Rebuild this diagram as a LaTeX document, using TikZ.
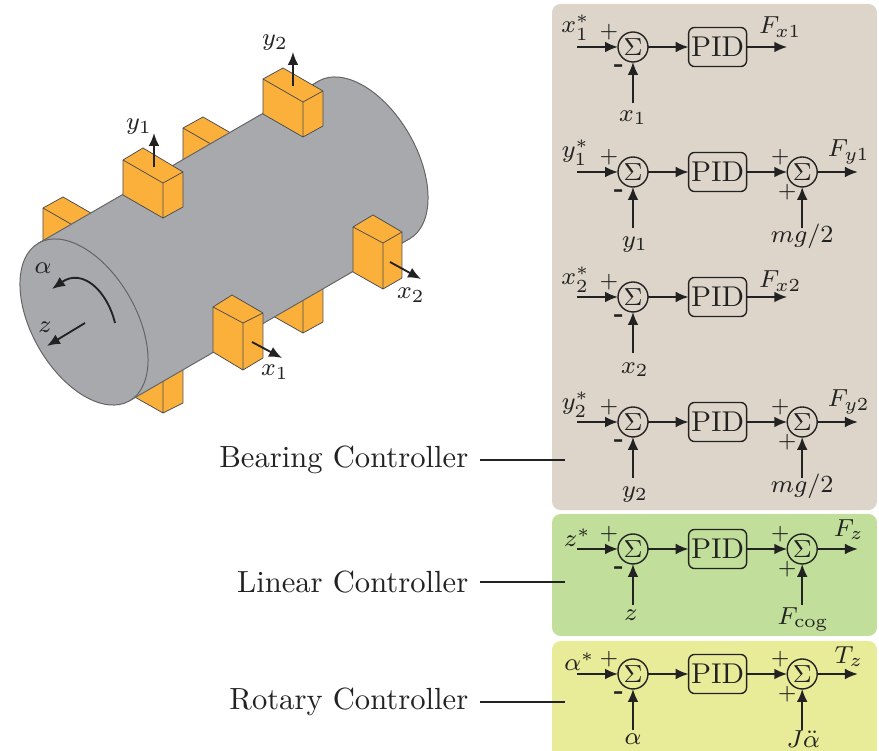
\documentclass[tikz,border=0pt]{standalone}
\usepackage{xcolor}
\usepackage{tikz}
\usetikzlibrary{arrows.meta,positioning}
\definecolor{rotorgray}{HTML}{A7A9AC}
\definecolor{magnetorange}{HTML}{FBB03B}
\definecolor{panelbrown}{HTML}{DDD5C9}
\definecolor{panelgreen}{HTML}{C1DE9A}
\definecolor{panelyellow}{HTML}{E8EB98}
\definecolor{inkdark}{HTML}{222222}

\begin{document}
\begin{tikzpicture}[
    x=0.325pt, y=-0.325pt,
    node distance=13.2pt,
    every node/.style={text=inkdark},
    panel/.style={rounded corners=2.8pt, minimum width=105.6pt, inner sep=0pt},
    pid/.style={draw=inkdark, line width=0.45pt, rounded corners=1.95pt, minimum width=18.85pt, minimum height=12.7pt, inner sep=0pt, outer sep=0pt, font=\fontsize{9.3}{10}\selectfont},
    sumnode/.style={draw=inkdark, line width=0.45pt, circle, minimum size=9.75pt, inner sep=0pt, outer sep=0pt, font=\fontsize{8}{9}\selectfont},
    lbl/.style={inner sep=0pt, font=\fontsize{8}{9}\selectfont},
    plusnode/.style={inner sep=0pt, font=\fontsize{6.93}{8}\selectfont},
    minusnode/.style={inner sep=0pt, font=\fontsize{8}{9}\selectfont\bfseries},
    ctrltext/.style={anchor=east, inner sep=3.6pt, font=\fontsize{9.95}{12}\selectfont},
    leader/.style={line width=0.55pt, draw=inkdark},
    arrow/.style={-{Latex[length=4.2pt,width=3.5pt]}, line width=0.6pt, draw=inkdark},
    magnet/.style={fill=magnetorange, draw=inkdark!80, line width=0.25pt, line join=round},
    rotor/.style={fill=rotorgray, draw=inkdark!70, line width=0.32pt}
  ]
    \clip (0,0) rectangle (879,751);

    % panels
    \node[panel, fill=panelbrown, minimum height=164.5pt] (bearingpanel) at (714.5,257) {};
    \node[panel, fill=panelgreen, minimum height=39.65pt] (linearpanel) at (714.5,575) {};
    \node[panel, fill=panelyellow, minimum height=52pt] (rotarypanel) at (714.5,721) {};

    % magnets behind the rotor
    \draw[magnet] (63,197) -- (43,208) -- (43,243) -- (83,266) -- (103,255) -- (103,220) -- cycle (43,208) -- (83,231) -- (103,220) (83,231) -- (83,266);
    \draw[magnet] (203,117) -- (183,128) -- (183,163) -- (223,186) -- (243,175) -- (243,140) -- cycle (183,128) -- (223,151) -- (243,140) (223,151) -- (223,186);
    \draw[magnet] (293,259) -- (273,270) -- (273,316) -- (303,333) -- (323,322) -- (323,276) -- cycle (273,270) -- (303,287) -- (323,276) (303,287) -- (303,333);
    \draw[magnet] (153,339) -- (133,350) -- (133,396) -- (163,413) -- (183,403) -- (183,356) -- cycle (133,350) -- (163,367) -- (183,356) (163,367) -- (163,413);

    % rotor
    \draw[rotor] (364,160) ellipse [x radius=16.9pt, y radius=29.6pt, rotate=30];
    \fill[rotorgray] (38.5,243.2) -- (318.5,81.2) -- (409.5,238.8) -- (129.5,400.8) -- cycle;
    \draw[rotor, fill=none] (38.5,243.2) -- (318.5,81.2) (129.5,400.8) -- (409.5,238.8);
    \draw[rotor] (84,322) ellipse [x radius=16.9pt, y radius=29.6pt, rotate=30];

    % magnets in front
    \draw[magnet] (143,148) -- (123,160) -- (123,195) -- (163,218) -- (183,207) -- (183,172) -- cycle (123,160) -- (163,183) -- (183,172) (163,183) -- (163,218);
    \draw[magnet] (283,68) -- (263,79) -- (263,114) -- (303,137) -- (323,126) -- (323,91) -- cycle (263,79) -- (303,102) -- (323,91) (303,102) -- (303,137);
    \draw[magnet] (373,215) -- (353,227) -- (353,272) -- (383,289) -- (402,278) -- (402,232) -- cycle (353,227) -- (383,243) -- (402,232) (383,243) -- (383,289);
    \draw[magnet] (232,295) -- (213,307) -- (213,352) -- (243,370) -- (263,358) -- (263,313) -- cycle (213,307) -- (243,323) -- (263,313) (243,323) -- (243,370);

    % axes on the rotor
    \coordinate (y1from) at (154,167);
    \coordinate (y1to) at (154,133);
    \coordinate (y2from) at (293,86);
    \coordinate (y2to) at (293,52);
    \coordinate (x1from) at (252,342);
    \coordinate (x1to) at (282,358);
    \coordinate (x2from) at (390,262);
    \coordinate (x2to) at (421,279);
    \coordinate (zfrom) at (85,323);
    \coordinate (zto) at (47,346);
    \coordinate (alphafrom) at (115,323);
    \coordinate (alphato) at (52,289);
    \path[arrow] (y1from) -- (y1to);
    \path[arrow] (y2from) -- (y2to);
    \path[arrow] (x1from) -- (x1to);
    \path[arrow] (x2from) -- (x2to);
    \path[arrow] (zfrom) -- (zto);
    \path[arrow] (alphafrom) .. controls (107,290) and (82,268) .. (alphato);
    \node[lbl] (y1axis) at (139,127) {$y_1$};
    \node[lbl] (y2axis) at (275,43) {$y_2$};
    \node[lbl] (x1axis) at (275,372) {$x_1$};
    \node[lbl] (x2axis) at (411,295) {$x_2$};
    \node[lbl] (zaxis) at (45,327) {$z$};
    \node[lbl] (alphaaxis) at (43,268) {$\alpha$};

    % controller names
    \node[ctrltext] (bearingname) at (480,460) {Bearing Controller};
    \node[ctrltext] (linearname) at (480,582) {Linear Controller};
    \node[ctrltext] (rotaryname) at (480,702) {Rotary Controller};
    \coordinate (bearingend) at (565,460);
    \coordinate (linearend) at (565,582);
    \coordinate (rotaryend) at (565,702);
    \path[leader] (bearingname) -- (bearingend);
    \path[leader] (linearname) -- (linearend);
    \path[leader] (rotaryname) -- (rotaryend);

    % x1
    \node[sumnode] (sumxa) at (633,47) {$\Sigma$};
    \node[pid, right=of sumxa] (pidxa) {PID};
    \coordinate[left=of sumxa] (inxa);
    \coordinate[below=of sumxa] (fbxa);
    \coordinate[right=of pidxa] (outxa);
    \path[arrow] (inxa) -- (sumxa);
    \path[arrow] (fbxa) -- (sumxa);
    \path[arrow] (sumxa) -- (pidxa);
    \path[arrow] (pidxa) -- (outxa);
    \node[lbl] (refxa) at ([shift={(-2,-19)}]inxa) {$x_1^*$};
    \node[lbl] (measxa) at ([shift={(0,15)}]fbxa) {$x_1$};
    \node[lbl] (forcexa) at ([shift={(-7,-20)}]outxa) {$F_{x1}$};
    \node[plusnode] (plusxa) at ([shift={(-24,-15)}]sumxa) {+};
    \node[minusnode] (minusxa) at ([shift={(-14,21)}]sumxa) {-};

    % y1
    \node[sumnode] (sumya) at (633,172) {$\Sigma$};
    \node[pid, right=of sumya] (pidya) {PID};
    \node[sumnode, right=of pidya] (addya) {$\Sigma$};
    \coordinate[left=of sumya] (inya);
    \coordinate[below=of sumya] (fbya);
    \coordinate[below=of addya] (ffya);
    \coordinate[right=of addya] (outya);
    \path[arrow] (inya) -- (sumya);
    \path[arrow] (fbya) -- (sumya);
    \path[arrow] (sumya) -- (pidya);
    \path[arrow] (pidya) -- (addya);
    \path[arrow] (ffya) -- (addya);
    \path[arrow] (addya) -- (outya);
    \node[lbl] (refya) at ([shift={(-2,-19)}]inya) {$y_1^*$};
    \node[lbl] (measya) at ([shift={(2,17)}]fbya) {$y_1$};
    \node[lbl] (gravya) at ([shift={(0,9)}]ffya) {$mg/2$};
    \node[lbl] (forceya) at ([shift={(-9,-20)}]outya) {$F_{y1}$};
    \node[plusnode] (plusya) at ([shift={(-24,-15)}]sumya) {+};
    \node[minusnode] (minusya) at ([shift={(-14,21)}]sumya) {-};
    \node[plusnode] (plusaddya) at ([shift={(-22,-15)}]addya) {+};
    \node[plusnode] (plusffya) at ([shift={(-15,20)}]addya) {+};

    % x2
    \node[sumnode] (sumxb) at (633,297) {$\Sigma$};
    \node[pid, right=of sumxb] (pidxb) {PID};
    \coordinate[left=of sumxb] (inxb);
    \coordinate[below=of sumxb] (fbxb);
    \coordinate[right=of pidxb] (outxb);
    \path[arrow] (inxb) -- (sumxb);
    \path[arrow] (fbxb) -- (sumxb);
    \path[arrow] (sumxb) -- (pidxb);
    \path[arrow] (pidxb) -- (outxb);
    \node[lbl] (refxb) at ([shift={(-2,-17)}]inxb) {$x_2^*$};
    \node[lbl] (measxb) at ([shift={(2,17)}]fbxb) {$x_2$};
    \node[lbl] (forcexb) at ([shift={(-7,-16)}]outxb) {$F_{x2}$};
    \node[plusnode] (plusxb) at ([shift={(-24,-15)}]sumxb) {+};
    \node[minusnode] (minusxb) at ([shift={(-14,21)}]sumxb) {-};

    % y2
    \node[sumnode] (sumyb) at (633,422) {$\Sigma$};
    \node[pid, right=of sumyb] (pidyb) {PID};
    \node[sumnode, right=of pidyb] (addyb) {$\Sigma$};
    \coordinate[left=of sumyb] (inyb);
    \coordinate[below=of sumyb] (fbyb);
    \coordinate[below=of addyb] (ffyb);
    \coordinate[right=of addyb] (outyb);
    \path[arrow] (inyb) -- (sumyb);
    \path[arrow] (fbyb) -- (sumyb);
    \path[arrow] (sumyb) -- (pidyb);
    \path[arrow] (pidyb) -- (addyb);
    \path[arrow] (ffyb) -- (addyb);
    \path[arrow] (addyb) -- (outyb);
    \node[lbl] (refyb) at ([shift={(-2,-17)}]inyb) {$y_2^*$};
    \node[lbl] (measyb) at ([shift={(2,17)}]fbyb) {$y_2$};
    \node[lbl] (gravyb) at ([shift={(0,9)}]ffyb) {$mg/2$};
    \node[lbl] (forceyb) at ([shift={(-9,-20)}]outyb) {$F_{y2}$};
    \node[plusnode] (plusyb) at ([shift={(-24,-15)}]sumyb) {+};
    \node[minusnode] (minusyb) at ([shift={(-14,21)}]sumyb) {-};
    \node[plusnode] (plusaddyb) at ([shift={(-22,-15)}]addyb) {+};
    \node[plusnode] (plusffyb) at ([shift={(-15,20)}]addyb) {+};

    % z
    \node[sumnode] (sumz) at (633,549) {$\Sigma$};
    \node[pid, right=of sumz] (pidz) {PID};
    \node[sumnode, right=of pidz] (addz) {$\Sigma$};
    \coordinate[left=of sumz] (inz);
    \coordinate[below=of sumz] (fbz);
    \coordinate[below=of addz] (ffz);
    \coordinate[right=of addz] (outz);
    \path[arrow] (inz) -- (sumz);
    \path[arrow] (fbz) -- (sumz);
    \path[arrow] (sumz) -- (pidz);
    \path[arrow] (pidz) -- (addz);
    \path[arrow] (ffz) -- (addz);
    \path[arrow] (addz) -- (outz);
    \node[lbl] (refz) at ([shift={(0,-11)}]inz) {$z^*$};
    \node[lbl] (measz) at ([shift={(-2,11)}]fbz) {$z$};
    \node[lbl] (cogz) at ([shift={(1,15)}]ffz) {$F_{\mathrm{cog}}$};
    \node[lbl] (forcez) at ([shift={(-9,-19)}]outz) {$F_z$};
    \node[plusnode] (plusz) at ([shift={(-24,-15)}]sumz) {+};
    \node[minusnode] (minusz) at ([shift={(-14,21)}]sumz) {-};
    \node[plusnode] (plusaddz) at ([shift={(-22,-15)}]addz) {+};
    \node[plusnode] (plusffz) at ([shift={(-15,20)}]addz) {+};

    % alpha
    \node[sumnode] (sumr) at (633,674) {$\Sigma$};
    \node[pid, right=of sumr] (pidr) {PID};
    \node[sumnode, right=of pidr] (addr) {$\Sigma$};
    \coordinate[left=of sumr] (inr);
    \coordinate[below=of sumr] (fbr);
    \coordinate[below=of addr] (ffr);
    \coordinate[right=of addr] (outr);
    \path[arrow] (inr) -- (sumr);
    \path[arrow] (fbr) -- (sumr);
    \path[arrow] (sumr) -- (pidr);
    \path[arrow] (pidr) -- (addr);
    \path[arrow] (ffr) -- (addr);
    \path[arrow] (addr) -- (outr);
    \node[lbl] (refr) at ([shift={(2,-12)}]inr) {$\alpha^*$};
    \node[lbl] (measr) at ([shift={(0,10)}]fbr) {$\alpha$};
    \node[lbl] (inertr) at ([shift={(1,9)}]ffr) {$J\ddot{\alpha}$};
    \node[lbl] (torquer) at ([shift={(-9,-17)}]outr) {$T_z$};
    \node[plusnode] (plusr) at ([shift={(-24,-15)}]sumr) {+};
    \node[minusnode] (minusr) at ([shift={(-14,21)}]sumr) {-};
    \node[plusnode] (plusaddr) at ([shift={(-22,-15)}]addr) {+};
    \node[plusnode] (plusffr) at ([shift={(-15,20)}]addr) {+};
  \end{tikzpicture}
\end{document}
